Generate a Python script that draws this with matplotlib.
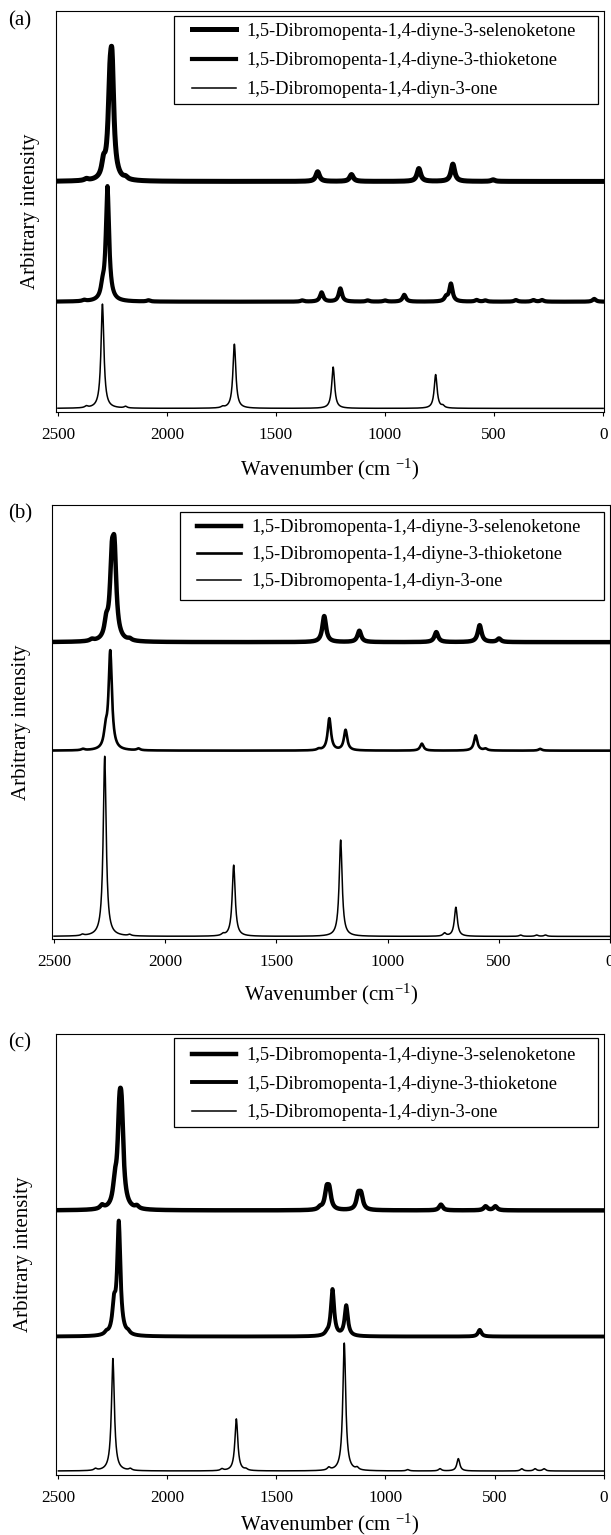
import numpy as np
import matplotlib.pyplot as plt
from matplotlib.patches import Rectangle

plt.rcParams['font.family'] = ['Liberation Serif', 'DejaVu Serif']
plt.rcParams['mathtext.fontset'] = 'custom'
plt.rcParams['mathtext.rm'] = 'Liberation Serif'
plt.rcParams['mathtext.it'] = 'Liberation Serif:italic'

W, H = 611, 1535  # figure size in px

labels = ['1,5-Dibromopenta-1,4-diyne-3-selenoketone',
          '1,5-Dibromopenta-1,4-diyne-3-thioketone',
          '1,5-Dibromopenta-1,4-diyn-3-one']
xticks = [2500, 2000, 1500, 1000, 500, 0]

# peak centres (cm-1) and heights (% of axis height)
# (a)
a_se_pos = [2370, 2291, 2262, 2252, 2190, 1309, 1154, 845, 689, 505]
a_se_hgt = [0.4, 3.5, 17.0, 24.0, 0.5, 2.4, 1.7, 3.2, 4.3, 0.4]
a_th_pos = [2380, 2296, 2273, 2085, 1380, 1291, 1205, 1080, 1000, 912, 720, 698, 580, 540, 400, 320, 280, 41]
a_th_hgt = [0.3, 2.5, 28.5, 0.3, 0.3, 2.3, 3.3, 0.3, 0.3, 1.7, 1.0, 4.4, 0.4, 0.3, 0.4, 0.4, 0.4, 0.7]
a_on_pos = [2370, 2296, 2190, 1745, 1691, 1238, 768, 735]
a_on_hgt = [0.4, 26.0, 0.4, 0.3, 16.0, 10.3, 8.4, 0.5]
a_offsets = [57.5, 27.5, 0.9]

# (b)
b_se_pos = [2330, 2265, 2240, 2228, 2160, 1285, 1127, 781, 586, 499]
b_se_hgt = [0.4, 3.5, 15.5, 17.5, 0.4, 6.0, 2.6, 2.3, 3.9, 0.8]
b_th_pos = [2370, 2268, 2247, 2120, 1310, 1262, 1189, 846, 604, 560, 314]
b_th_hgt = [0.3, 3.6, 22.6, 0.4, 0.3, 7.4, 4.7, 1.6, 3.5, 0.4, 0.4]
b_on_pos = [2372, 2272, 2160, 1740, 1692, 1211, 744, 693, 402, 330, 290]
b_on_hgt = [0.3, 41.5, 0.3, 0.4, 16.4, 22.2, 0.7, 6.7, 0.3, 0.3, 0.3]
b_offsets = [68.4, 43.4, 0.6]

# (c)
c_se_pos = [2300, 2241, 2220, 2210, 2140, 1300, 1270, 1258, 1125, 1112, 746, 541, 496]
c_se_hgt = [0.8, 4.5, 17.0, 17.0, 0.6, 0.5, 4.0, 4.0, 3.1, 3.1, 1.3, 0.9, 0.9]
c_th_pos = [2280, 2245, 2223, 2180, 1270, 1243, 1180, 568]
c_th_hgt = [0.5, 6.0, 25.4, 0.5, 0.4, 10.6, 6.9, 1.5]
c_on_pos = [2330, 2250, 2170, 1750, 1684, 1640, 1260, 1189, 1130, 898, 750, 666, 375, 314, 273]
c_on_hgt = [0.4, 25.5, 0.4, 0.4, 11.8, 0.3, 0.6, 29.0, 0.5, 0.3, 0.5, 2.8, 0.5, 0.5, 0.5]
c_offsets = [60.0, 31.4, 0.9]

wn = np.linspace(2500, 0, 2501)


def spectrum(pos, hgt, hwhm):
    # lorentzian broadening of the stick spectrum
    p = np.asarray(pos, float)[:, None]
    h = np.asarray(hgt, float)[:, None]
    return (h / (1 + ((wn - p) / hwhm) ** 2)).sum(axis=0)


def fig_box(l, t, r, b):
    return [l / W, 1 - b / H, (r - l) / W, (b - t) / H]


def draw_panel(fig, box, tag, tag_y, peaks, offsets, lws, xlim,
               leg_xy, leg_space, frame, ylab_x, xlab_y):
    ax = fig.add_axes(fig_box(*box))
    hw = [10, 9, 8]
    lines = []
    for (pos, hgt), off, lw, g in zip(peaks, offsets, lws, hw):
        ln, = ax.plot(wn, off + spectrum(pos, hgt, g), color='black', lw=lw,
                      solid_joinstyle='round')
        lines.append(ln)
    ax.set_xlim(*xlim)
    ax.set_ylim(0, 100)
    ax.set_xticks(xticks)
    ax.set_yticks([])
    ax.tick_params(axis='x', direction='out', length=3, width=0.8, pad=8,
                   labelsize=12.3)
    for s in ax.spines.values():
        s.set_linewidth(0.8)

    ax.set_xlabel(xlab_y[0], fontsize=15)
    ax.xaxis.set_label_coords(0.5, xlab_y[1])
    ax.set_ylabel('Arbitrary intensity', fontsize=15, va='center')
    ax.yaxis.set_label_coords(ylab_x, 0.5)

    l, t, r, b = frame
    ax.add_patch(Rectangle((l / W, 1 - b / H), (r - l) / W, (b - t) / H,
                           transform=fig.transFigure, fc='white', ec='black',
                           lw=0.9, zorder=4, clip_on=False))
    ax.legend(lines, labels, loc='upper left',
              bbox_to_anchor=(leg_xy[0] / W, 1 - leg_xy[1] / H),
              bbox_transform=fig.transFigure, frameon=False, borderpad=0,
              borderaxespad=0, handlelength=2.4, handletextpad=0.55,
              labelspacing=leg_space, fontsize=13.2)
    fig.text(8 / W, 1 - tag_y / H, tag, fontsize=15, va='center', ha='left')
    return ax


fig = plt.figure(figsize=(W / 100, H / 100), dpi=100)

draw_panel(fig, (56, 11, 604, 412), '(a)', 21,
           [(a_se_pos, a_se_hgt), (a_th_pos, a_th_hgt), (a_on_pos, a_on_hgt)],
           a_offsets, [3.6, 3.0, 1.1], (2509, -4),
           (192, 22.5), 0.68, (174, 16, 598, 104), -0.0474,
           ('Wavenumber (cm $^{-1}$)', -45 / 401))

draw_panel(fig, (52, 505, 610, 939), '(b)', 514,
           [(b_se_pos, b_se_hgt), (b_th_pos, b_th_hgt), (b_on_pos, b_on_hgt)],
           b_offsets, [3.2, 1.9, 1.1], (2509, 0),
           (197, 519), 0.55, (180, 512, 604, 600), -0.0538,
           ('Wavenumber (cm$^{-1}$)', -43 / 434))

draw_panel(fig, (56, 1034, 604, 1475), '(c)', 1043,
           [(c_se_pos, c_se_hgt), (c_th_pos, c_th_hgt), (c_on_pos, c_on_hgt)],
           c_offsets, [3.2, 2.8, 1.1], (2511, -2),
           (192, 1047), 0.63, (174, 1038, 598, 1127), -0.0584,
           ('Wavenumber (cm $^{-1}$)', -37 / 441))

fig.savefig('out.png', dpi=100)
